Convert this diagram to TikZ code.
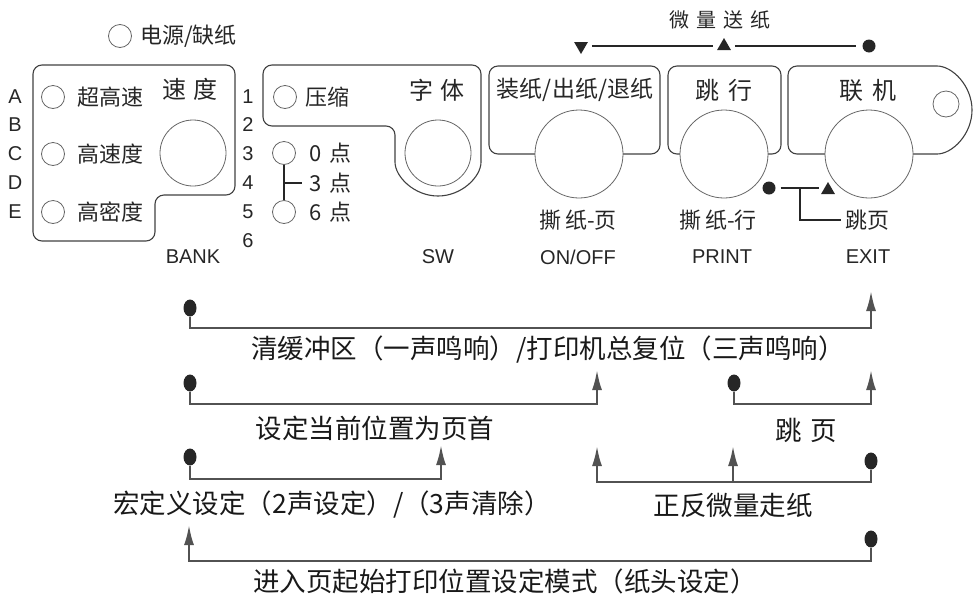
\documentclass[tikz,border=0pt]{standalone}
\usepackage{fontspec}
\setmainfont{Liberation Sans}
\newfontfamily\cjk{Noto Sans CJK SC}
\usetikzlibrary{arrows.meta,shapes.geometric}

\begin{document}
\begin{tikzpicture}[x=1pt, y=-1pt,
  panel/.style={draw=black!75, line width=1.1pt, rounded corners=9pt},
  ledring/.style={circle, draw=black!60, line width=0.8pt, minimum size=23pt, inner sep=0pt},
  knob/.style={circle, draw=black!60, line width=0.8pt, fill=white, minimum size=88pt, inner sep=0pt},
  keytext/.style={font=\fontsize{20}{20}\selectfont, text=black!85, inner sep=0pt},
  cn/.style={font=\cjk\fontsize{22}{22}\selectfont, text=black!85, inner sep=0pt},
  head/.style={font=\cjk\fontsize{24}{24}\selectfont, text=black!85, inner sep=0pt},
  note/.style={font=\cjk\fontsize{26.5}{26.5}\selectfont, text=black!90, inner sep=0pt},
  blob/.style={circle, fill=black!85, minimum size=13pt, inner sep=0pt},
  pin/.style={ellipse, fill=black!85, minimum width=13pt, minimum height=17pt, inner sep=0pt},
  tri/.style={regular polygon, regular polygon sides=3, fill=black!85, minimum size=16pt, inner sep=0pt},
  wire/.style={draw=black!68, line width=2.2pt},
  bar/.style={draw=black!85, line width=2.6pt},
  up/.style={-{Latex[length=20pt,width=10pt]}}
]
\useasboundingbox (0,0) rectangle (973,595);

\node[ledring] (power) at (120,36) {};
\node[cn, anchor=west] (powertext) at (140,36) {电源/缺纸};

\draw[panel] (33,65) -- (235,65) -- (235,195) -- (155,195) -- (155,241) -- (33,241) -- cycle;
\node[keytext] (rowA) at (15,97) {A};
\node[keytext] (rowB) at (15,125) {B};
\node[keytext] (rowC) at (15,154) {C};
\node[keytext] (rowD) at (15,183) {D};
\node[keytext] (rowE) at (15,212) {E};
\node[ledring] (ledfast) at (53,97) {};
\node[ledring] (ledhigh) at (53,154) {};
\node[ledring] (leddense) at (53,212) {};
\node[cn, anchor=west] (fasttext) at (77,97) {超高速};
\node[cn, anchor=west] (hightext) at (77,154) {高速度};
\node[cn, anchor=west] (densetext) at (77,212) {高密度};
\node[head] (speedhead) at (190,89) {速\hspace{8pt}度};
\node[knob, minimum size=66pt] (bankknob) at (193,153) {};
\node[keytext] (bank) at (193,257) {BANK};

\node[keytext] (num1) at (248,97) {1};
\node[keytext] (num2) at (248,125) {2};
\node[keytext] (num3) at (248,154) {3};
\node[keytext] (num4) at (248,183) {4};
\node[keytext] (num5) at (248,212) {5};
\node[keytext] (num6) at (248,241) {6};

\draw[panel] (263,65) -- (481,65) -- (481,153) arc (0:180:43) -- (395,126) -- (263,126) -- cycle;
\node[ledring] (ledcond) at (285,97) {};
\node[cn, anchor=west] (condtext) at (305,97) {压缩};
\node[head] (fonthead) at (437,90) {字\hspace{8pt}体};
\node[knob, minimum size=66pt] (swknob) at (438,153) {};
\node[keytext] (sw) at (438,257) {SW};
\node[ledring] (ledzero) at (284,153) {};
\node[ledring] (ledsix) at (284,212) {};
\draw[bar] (ledzero) -- (ledsix);
\draw[bar] (ledzero |- 0,183) -- (302,183);
\node[cn, anchor=west] (zerotext) at (309,153) {0\hspace{8pt}点};
\node[cn, anchor=west] (threetext) at (309,183) {3\hspace{8pt}点};
\node[cn, anchor=west] (sixtext) at (309,212) {6\hspace{8pt}点};

\draw[panel] (489,66) rectangle (660,154);
\node[cn, font=\cjk\fontsize{23}{23}\selectfont] (loadhead) at (575,90) {装纸/出纸/退纸};
\node[knob] (onknob) at (579,154) {};
\node[cn] (tearpage) at (578,220) {撕\hspace{4pt}纸-页};
\node[keytext] (onoff) at (578,257) {ON/OFF};

\draw[panel] (668,66) rectangle (781,154);
\node[head] (linehead) at (724,90) {跳\hspace{9pt}行};
\node[knob] (printknob) at (724,154) {};
\node[cn] (tearline) at (718,220) {撕\hspace{4pt}纸-行};
\node[keytext] (print) at (722,257) {PRINT};

\draw[panel] (788,66) -- (928,66) arc (-90:90:44) -- (788,154) -- cycle;
\node[head] (onlinehead) at (868,90) {联\hspace{9pt}机};
\node[ledring, minimum size=26pt] (ledonline) at (946,104) {};
\node[knob] (exitknob) at (869,154) {};
\node[keytext] (exit) at (868,257) {EXIT};

\node[cn, font=\cjk\fontsize{20}{20}\selectfont] (microtext) at (720,20) {微\hspace{7pt}量\hspace{7pt}送\hspace{7pt}纸};
\node[tri, shape border rotate=180] (feeddown) at (581,46) {};
\node[tri] (feedup) at (724,46) {};
\node[blob] (feeddot) at (869,46) {};
\draw[bar, shorten <=6pt, shorten >=6pt] (feeddown) -- (feedup);
\draw[bar, shorten <=6pt, shorten >=6pt] (feedup) -- (feeddot);

\node[blob] (printdot) at (769,188) {};
\node[tri] (printup) at (828,190) {};
\coordinate (printjoin) at (800,188);
\node[cn, anchor=west] (skiptext) at (845,220) {跳页};
\draw[bar, shorten <=5pt, shorten >=4pt] (printdot) -- (printdot -| printup.west);
\draw[bar, shorten >=4pt] (printjoin) |- (skiptext.west);

\node[pin] (resetdot) at (190,308) {};
\coordinate (resettip) at (871,291);
\draw[wire, up] (resetdot.south) -- (resetdot.south |- 0,328) -| (resettip);
\node[note] (resettext) at (548,350) {清缓冲区（一声鸣响）/打印机总复位（三声鸣响）};

\node[pin] (topdot) at (190,383) {};
\coordinate (toptip) at (597,370);
\draw[wire, up] (topdot.south) -- (topdot.south |- 0,404) -| (toptip);
\node[note] (toptext) at (375,428) {设定当前位置为页首};

\node[pin] (skipdot) at (734,383) {};
\coordinate (skiptip) at (871,370);
\draw[wire, up] (skipdot.south) -- (skipdot.south |- 0,404) -| (skiptip);
\node[note] (skipnote) at (806,430) {跳\hspace{9pt}页};

\node[pin] (macrodot) at (190,457) {};
\coordinate (macrotip) at (441,445);
\draw[wire, up] (macrodot.south) -- (macrodot.south |- 0,479) -| (macrotip);
\node[note] (macrotext) at (332,505) {宏定义设定（2声设定）/（3声清除）};

\node[pin] (microdot) at (871,461) {};
\coordinate (backtip) at (597,446);
\coordinate (fwdtip) at (733,446);
\draw[wire, up] (microdot.south) -- (microdot.south |- 0,482) -| (backtip);
\draw[wire, up] (fwdtip |- 0,482) -- (fwdtip);
\node[note] (micronote) at (733,505) {正反微量走纸};

\node[pin] (formdot) at (871,539) {};
\coordinate (formtip) at (189,525);
\draw[wire, up] (formdot.south) -- (formdot.south |- 0,561) -| (formtip);
\node[note] (formtext) at (505,581) {进入页起始打印位置设定模式（纸头设定）};
\end{tikzpicture}
\end{document}
